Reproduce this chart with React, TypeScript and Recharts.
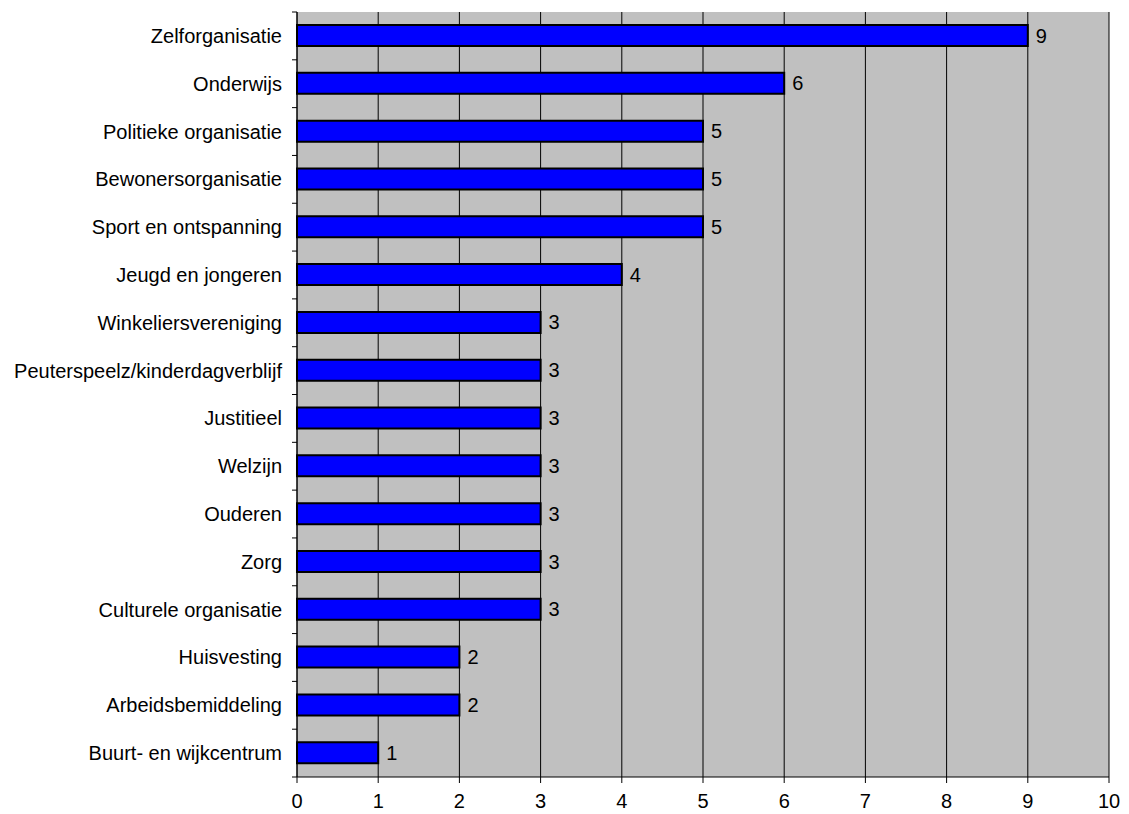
import React from "react";
import {
  BarChart,
  Bar,
  XAxis,
  YAxis,
  CartesianGrid,
  LabelList,
} from "recharts";

const categories = [
  "Zelforganisatie",
  "Onderwijs",
  "Politieke organisatie",
  "Bewonersorganisatie",
  "Sport en ontspanning",
  "Jeugd en jongeren",
  "Winkeliersvereniging",
  "Peuterspeelz/kinderdagverblijf",
  "Justitieel",
  "Welzijn",
  "Ouderen",
  "Zorg",
  "Culturele organisatie",
  "Huisvesting",
  "Arbeidsbemiddeling",
  "Buurt- en wijkcentrum",
];

const counts = [9, 6, 5, 5, 5, 4, 3, 3, 3, 3, 3, 3, 3, 2, 2, 1];

const xTicks = [0, 1, 2, 3, 4, 5, 6, 7, 8, 9, 10];

const data = categories.map((name, i) => ({ name, value: counts[i] }));

const FONT = "'Liberation Sans', Arial, sans-serif";
const FS = 20;
const TOP = 12;
const BOTTOM = 777;
const band = (BOTTOM - TOP) / categories.length;

// category label at band centre, small tick marks on the band edges
const CategoryTick = (props: any) => {
  const { x, y, payload, index } = props;
  return (
    <g>
      <text
        x={x - 15}
        y={y}
        dy={7}
        textAnchor="end"
        fontSize={FS}
        fontFamily={FONT}
        fill="#000"
      >
        {payload.value}
      </text>
      {index === 0 && (
        <line x1={x - 5} x2={x} y1={y - band / 2} y2={y - band / 2} stroke="#000" />
      )}
      <line x1={x - 5} x2={x} y1={y + band / 2} y2={y + band / 2} stroke="#000" />
    </g>
  );
};

const App = () => {
  return (
    <div style={{ position: "absolute", left: 0, top: 0 }}>
      <BarChart
        width={1129}
        height={814}
        data={data}
        layout="vertical"
        margin={{ top: TOP, right: 20, left: 0, bottom: 0 }}
        barSize={21}
      >
        <CartesianGrid
          horizontal={false}
          stroke="#000"
          fill="#C0C0C0"
          fillOpacity={1}
        />
        <XAxis
          type="number"
          domain={[0, 10]}
          ticks={xTicks}
          interval={0}
          height={37}
          tickSize={6}
          tickMargin={11}
          axisLine={{ stroke: "#000" }}
          tickLine={{ stroke: "#000" }}
          tick={{ fontSize: FS, fill: "#000", fontFamily: FONT }}
        />
        <XAxis
          xAxisId="top"
          orientation="top"
          type="number"
          domain={[0, 10]}
          height={0}
          tick={false}
          tickLine={false}
          axisLine={{ stroke: "#808080", strokeWidth: 2 }}
        />
        <YAxis
          type="category"
          dataKey="name"
          width={297}
          interval={0}
          tickLine={false}
          tickSize={0}
          tickMargin={0}
          axisLine={{ stroke: "#000" }}
          tick={<CategoryTick />}
        />
        <YAxis
          yAxisId="right"
          orientation="right"
          type="category"
          dataKey="name"
          width={0}
          tick={false}
          tickLine={false}
          axisLine={{ stroke: "#808080", strokeWidth: 2 }}
        />
        <Bar
          dataKey="value"
          fill="#0000FF"
          stroke="#000"
          strokeWidth={2}
          isAnimationActive={false}
        >
          <LabelList
            dataKey="value"
            position="right"
            offset={8}
            fill="#000"
            fontSize={FS}
            fontFamily={FONT}
          />
        </Bar>
      </BarChart>
    </div>
  );
};

export default App;
